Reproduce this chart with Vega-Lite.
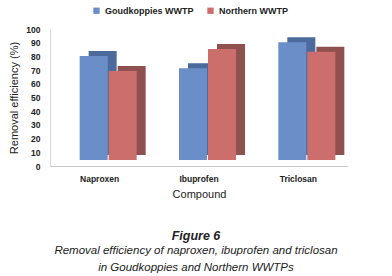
{
  "$schema": "https://vega.github.io/schema/vega-lite/v6.json",
  "autosize": {"type": "none"},
  "width": 298,
  "height": 137,
  "padding": {"left": 50, "top": 29, "right": 44, "bottom": 110},
  "background": "white",
  "config": {
    "font": "Liberation Sans",
    "view": {"stroke": null}
  },
  "title": {
    "text": "Figure 6",
    "subtitle": ["Removal efficiency of naproxen, ibuprofen and triclosan", "in Goudkoppies and Northern WWTPs"],
    "orient": "bottom",
    "anchor": "middle",
    "dx": -3,
    "offset": 30,
    "font": "Liberation Sans",
    "fontSize": 12.5,
    "fontStyle": "italic",
    "fontWeight": "bold",
    "color": "#222",
    "subtitleFont": "Liberation Sans",
    "subtitleFontSize": 11.5,
    "subtitleFontStyle": "italic",
    "subtitleColor": "#222",
    "subtitlePadding": 3,
    "subtitleLineHeight": 17
  },
  "data": {
    "values": [
      {"compound": "Naproxen", "plant": "Goudkoppies WWTP", "value": 76},
      {"compound": "Naproxen", "plant": "Northern WWTP", "value": 65},
      {"compound": "Ibuprofen", "plant": "Goudkoppies WWTP", "value": 67},
      {"compound": "Ibuprofen", "plant": "Northern WWTP", "value": 81},
      {"compound": "Triclosan", "plant": "Goudkoppies WWTP", "value": 86},
      {"compound": "Triclosan", "plant": "Northern WWTP", "value": 79}
    ]
  },
  "encoding": {
    "x": {
      "field": "compound",
      "type": "nominal",
      "sort": ["Naproxen", "Ibuprofen", "Triclosan"],
      "scale": {"paddingInner": 0.718, "paddingOuter": 0.359},
      "axis": {
        "title": "Compound",
        "titleFontSize": 11,
        "titleFontWeight": "normal",
        "titleColor": "#222",
        "titlePadding": 6,
        "labelAngle": 0,
        "labelFontSize": 8.5,
        "labelFontWeight": "bold",
        "labelColor": "#222",
        "labelPadding": 8,
        "ticks": false,
        "domainColor": "#c8c8c8"
      }
    },
    "y": {
      "field": "value",
      "type": "quantitative",
      "scale": {"domain": [0, 100]},
      "axis": {
        "title": "Removal efficiency (%)",
        "titleFontSize": 11,
        "titleFontWeight": "normal",
        "titleColor": "#222",
        "titlePadding": 6,
        "values": [0, 10, 20, 30, 40, 50, 60, 70, 80, 90, 100],
        "labelFontSize": 8.5,
        "labelFontWeight": "bold",
        "labelColor": "#222",
        "labelPadding": 10,
        "ticks": false,
        "grid": false,
        "domainColor": "#d8d8d8"
      }
    }
  },
  "layer": [
    {
      "transform": [{"filter": "datum.plant === 'Goudkoppies WWTP'"}],
      "mark": {"type": "bar", "xOffset": 3, "yOffset": -11, "y2Offset": -11, "color": "#4c6a9c"}
    },
    {
      "transform": [{"filter": "datum.plant === 'Northern WWTP'"}],
      "mark": {"type": "bar", "xOffset": 32, "yOffset": -11, "y2Offset": -11, "color": "#8e5150"}
    },
    {
      "transform": [{"filter": "datum.plant === 'Goudkoppies WWTP'"}],
      "mark": {"type": "bar", "xOffset": -6, "yOffset": -6, "y2Offset": -6},
      "encoding": {
        "color": {
          "field": "plant",
          "type": "nominal",
          "scale": {"domain": ["Goudkoppies WWTP", "Northern WWTP"], "range": ["#6a8fc8", "#cc6e6b"]},
          "legend": {
            "title": null,
            "orient": "none",
            "legendX": 42,
            "legendY": -23,
            "direction": "horizontal",
            "symbolType": "square",
            "symbolSize": 40,
            "labelFontSize": 9,
            "labelFontWeight": "bold",
            "labelColor": "#222",
            "columnPadding": 12,
            "labelOffset": 4
          }
        }
      }
    },
    {
      "transform": [{"filter": "datum.plant === 'Northern WWTP'"}],
      "mark": {"type": "bar", "xOffset": 23, "yOffset": -6, "y2Offset": -6},
      "encoding": {
        "color": {"field": "plant", "type": "nominal"}
      }
    }
  ]
}
